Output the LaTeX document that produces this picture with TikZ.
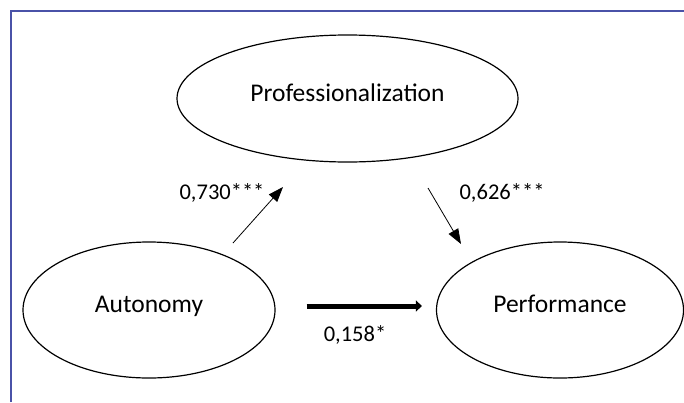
\documentclass[tikz,border=0pt]{standalone}
\usepackage{fontspec}
\setmainfont{Carlito}
\usetikzlibrary{shapes,arrows.meta,positioning,calc}
\definecolor{framec}{HTML}{4A52A8}

\begin{document}
\begin{tikzpicture}[x=1pt, y=-1pt,
  latent/.style={ellipse, draw, line width=1.2pt, inner sep=0pt, text height=15pt, text depth=10pt, font=\fontsize{25.5}{28}\selectfont},
  coef/.style={inner sep=0pt, font=\fontsize{22.5}{26}\selectfont},
  arr/.style={-{Triangle[length=15pt, width=11pt]}, line width=0.8pt},
  bigarr/.style={-{Triangle[length=6pt, width=11pt]}, line width=5pt}
]
  \useasboundingbox (0,0) rectangle (684,402);
  \draw[framec, line width=1.6pt] (11,402) -- (11,11) -- (684,11);
  \node[latent, minimum width=341pt, minimum height=127pt] (prof) at (347.5,98.5) {Professionalization};
  \node[latent, minimum width=252pt, minimum height=136pt] (auto) at (149,310) {Autonomy};
  \node[latent, minimum width=247pt, minimum height=136pt] (perf) at (560,310) {Performance};
  \coordinate (ap1) at (233,243);
  \coordinate (ap2) at (283,187);
  \coordinate (pp1) at (428,188);
  \coordinate (pp2) at (461,244);
  \draw[arr] (ap1) -- (ap2);
  \draw[arr] (pp1) -- (pp2);
  \draw[bigarr, shorten <=31pt, shorten >=14pt] ([yshift=4pt]auto.east) -- ([yshift=4pt]perf.west);
  \node[coef] (c1) at (222,193) {0,730***};
  \node[coef] (c2) at (502,193) {0,626***};
  \node[coef] (c3) at (355,335) {0,158*};
\end{tikzpicture}
\end{document}
